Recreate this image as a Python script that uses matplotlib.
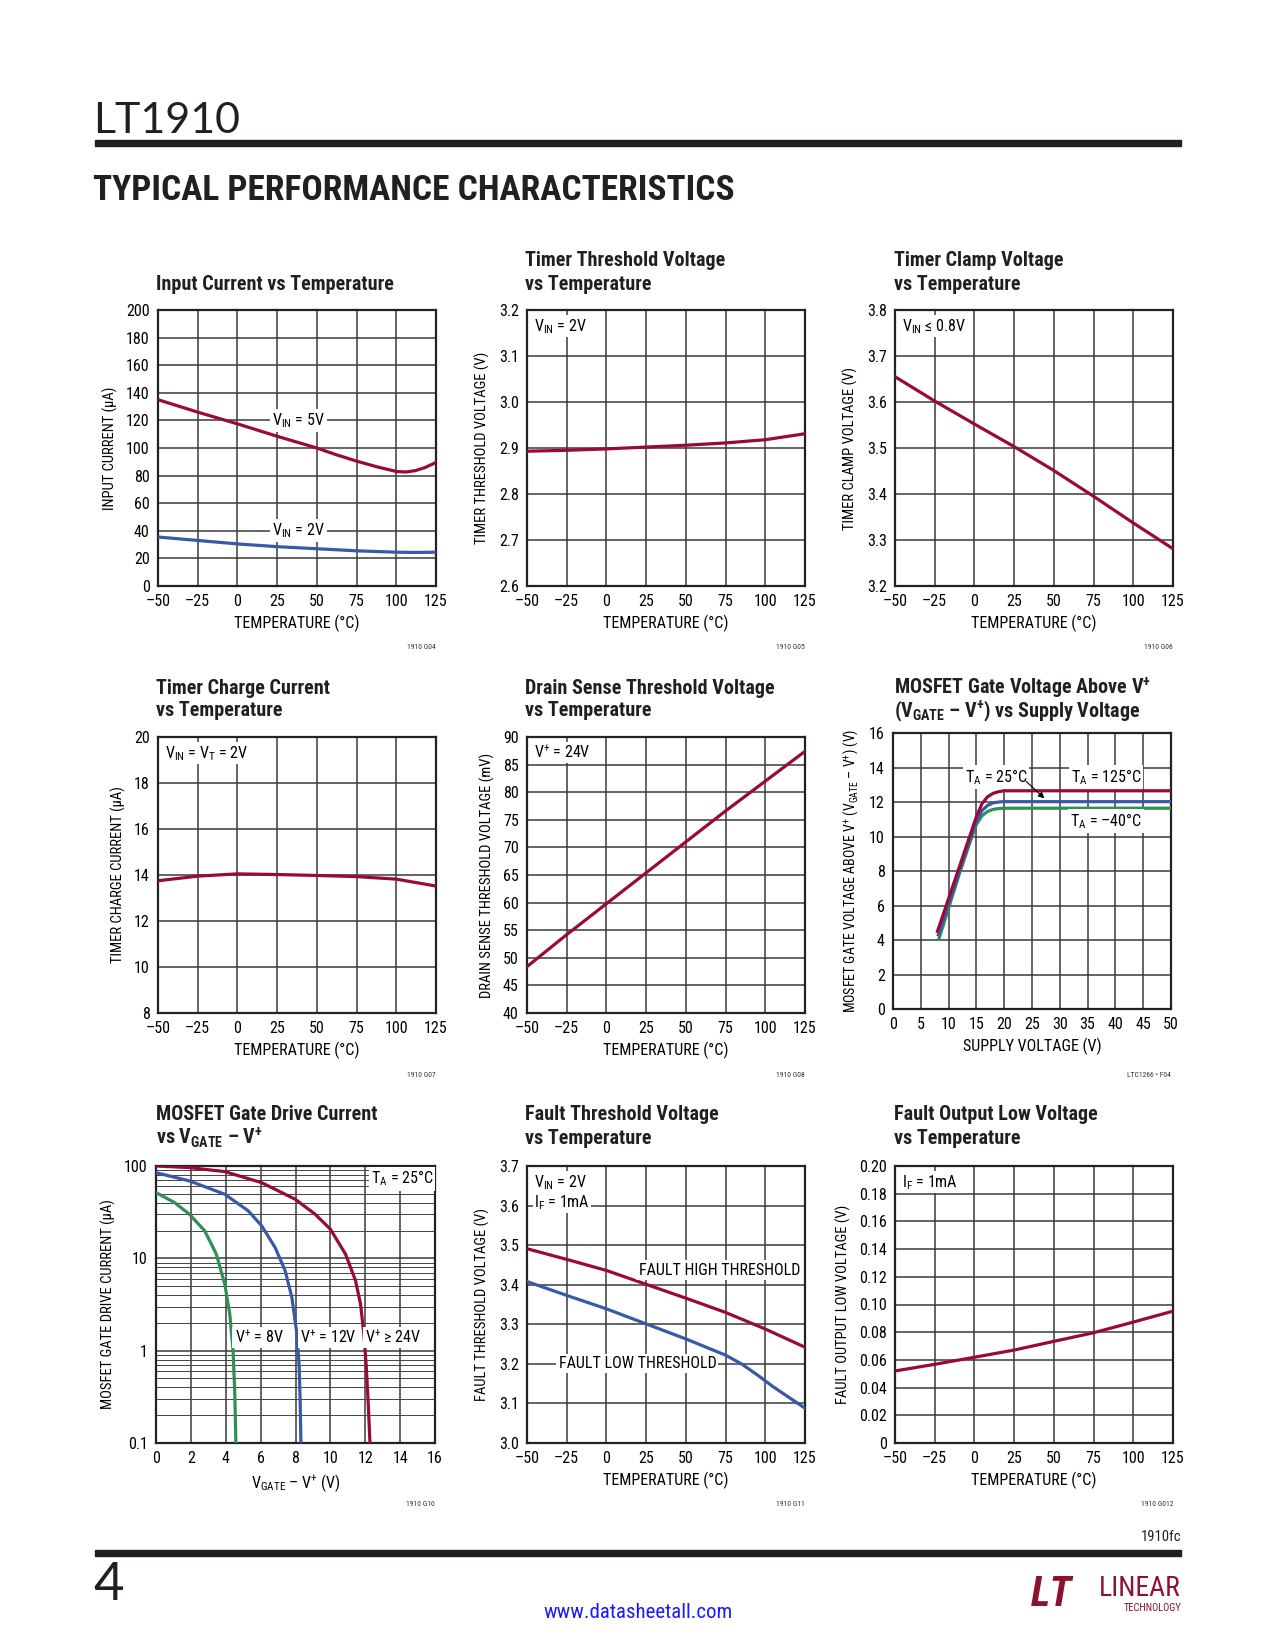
import matplotlib
matplotlib.use('Agg')
import matplotlib.pyplot as plt
from matplotlib import font_manager as fm
import numpy as np


def pick(*names):
    for n in names:
        try:
            fm.findfont(fm.FontProperties(family=n), fallback_to_default=False)
            return n
        except Exception:
            pass
    return 'DejaVu Sans'


COND = pick('Liberation Sans Narrow', 'Roboto Condensed', 'Liberation Sans')
LIGHT = pick('Lato', 'Open Sans', 'DejaVu Sans')

plt.rcParams['font.family'] = [COND, 'DejaVu Sans']
plt.rcParams['mathtext.fontset'] = 'custom'
plt.rcParams['mathtext.rm'] = COND
plt.rcParams['mathtext.it'] = COND
plt.rcParams['mathtext.bf'] = COND + ':bold'
plt.rcParams['mathtext.default'] = 'regular'

RED = '#9a0a36'
BLUE = '#3a58a8'
GREEN = '#2f8f55'
GRID = '#3a3a3a'

# ---------------- data ----------------
temp_5v = [-50, -25, 0, 25, 50, 62, 75, 88, 100, 106, 112, 118, 125]
icur_5v = [135, 126, 117.5, 108.5, 100, 95.2, 90.5, 86.3, 83, 82.6, 83.6, 85.8, 89.5]
temp_2v = [-50, -25, 0, 25, 50, 75, 100, 112, 125]
icur_2v = [35.5, 33, 30.5, 28.5, 27, 25.5, 24.5, 24.3, 24.5]

temp8 = [-50, -25, 0, 25, 50, 75, 100, 125]
timer_thr = [2.893, 2.895, 2.898, 2.902, 2.906, 2.911, 2.918, 2.931]
timer_clamp = [3.655, 3.602, 3.552, 3.503, 3.451, 3.395, 3.337, 3.281]
timer_chg = [13.75, 13.95, 14.05, 14.02, 13.98, 13.93, 13.82, 13.52]
drain_thr = [48.4, 54.2, 59.8, 65.4, 71.0, 76.6, 82.0, 87.4]

supply = [8, 10, 12, 14, 15, 16, 17, 18, 19, 20, 35, 50]
vgate_125 = [4.5, 6.4, 8.3, 10.2, 11.15, 11.9, 12.3, 12.5, 12.6, 12.65, 12.65, 12.65]
supply_25 = [8.15, 10, 12, 14, 15, 16, 17, 18, 19, 20, 35, 50]
vgate_25 = [4.3, 6.1, 8.05, 10.0, 10.9, 11.5, 11.8, 11.95, 12.0, 12.02, 12.02, 12.02]
supply_m40 = [8.3, 10, 12, 14, 15, 16, 17, 18, 19, 20, 35, 50]
vgate_m40 = [4.1, 5.85, 7.9, 9.8, 10.7, 11.2, 11.45, 11.57, 11.62, 11.64, 11.64, 11.64]

vg_24 = [0, 1.92, 3.94, 6.06, 7.98, 9.13, 10.0, 10.87, 11.44, 11.73, 11.92, 12.06, 12.17, 12.27]
id_24 = [100, 96, 87, 66, 43.7, 30, 20.7, 11.1, 5.75, 3.2, 1.52, 0.67, 0.27, 0.1]
vg_12 = [0, 1.92, 3.94, 5.29, 6.06, 6.83, 7.40, 7.79, 8.08, 8.21, 8.27, 8.31]
id_12 = [84.7, 68.9, 49.5, 32.7, 22.5, 13.1, 7.4, 3.8, 1.52, 0.67, 0.27, 0.1]
vg_8 = [0, 1.06, 1.92, 2.79, 3.46, 3.94, 4.23, 4.42, 4.52, 4.58]
id_8 = [51.6, 40.2, 30, 19.9, 11.1, 5.3, 2.5, 1.0, 0.34, 0.1]

temp_fh = [-50, -25, 0, 25, 50, 75, 100, 125]
fault_high = [3.491, 3.464, 3.436, 3.401, 3.366, 3.330, 3.288, 3.242]
temp_fl = [-50, -25, 0, 25, 50, 75, 85, 95, 105, 115, 125]
fault_low = [3.408, 3.373, 3.339, 3.301, 3.263, 3.222, 3.200, 3.172, 3.142, 3.115, 3.088]
fault_vol = [0.052, 0.0568, 0.0619, 0.0671, 0.0734, 0.0796, 0.0873, 0.0952]

temp_ticks = [-50, -25, 0, 25, 50, 75, 100, 125]
temp_labels = ['\u201350', '\u201325', '0', '25', '50', '75', '100', '125']

# ---------------- figure ----------------
W, H = 1275, 1650
fig = plt.figure(figsize=(W / 100, H / 100), dpi=100)


def rect(l, t, r, b):
    return [l / W, 1 - b / H, (r - l) / W, (b - t) / H]


def ftext(x, y, s, **kw):
    fig.text(x / W, 1 - y / H, s, **kw)


def setup(ax, xlim, xticks, xlabels, ylim, yticks, ylabels, xlabel, ylabel, ysize=10.5):
    ax.set_xlim(*xlim)
    ax.set_ylim(*ylim)
    ax.set_xticks(xticks)
    ax.set_xticklabels(xlabels)
    ax.set_yticks(yticks)
    ax.set_yticklabels(ylabels)
    ax.tick_params(length=0, labelsize=11.5, pad=6)
    ax.grid(True, color=GRID, lw=1.1)
    ax.set_axisbelow(True)
    for s in ax.spines.values():
        s.set_linewidth(1.6)
        s.set_color('#222222')
    ax.set_xlabel(xlabel, fontsize=11.5, labelpad=4)
    ax.set_ylabel(ylabel, fontsize=ysize, labelpad=6)


def label(ax, x, y, s, **kw):
    kw.setdefault('ha', 'center')
    kw.setdefault('va', 'center')
    ax.text(x, y, s, fontsize=11.5, zorder=4,
            bbox=dict(facecolor='white', edgecolor='none', pad=1.5), **kw)


def corner(ax, s):
    ax.text(0.025, 0.975, s, transform=ax.transAxes, ha='left', va='top',
            fontsize=11.5, linespacing=1.1, zorder=4,
            bbox=dict(facecolor='white', edgecolor='none', pad=1.0))


def title(x, ys, lines):
    for y, s in zip(ys, lines):
        ftext(x, y, s, fontsize=14.5, fontweight='bold', va='center', ha='left', color='#231f20')


def code(x, y, s):
    ftext(x, y, s, fontsize=5.5, ha='right', va='center', color='#333333')


cols = [(158, 436), (527, 805), (895, 1173)]
rows = [(310, 586), (737, 1013), (1166, 1443)]
title_rows = [(260, 284), (688, 711), (1115, 1138)]
code_rows = [647, 1075, 1504]
title_x = [156, 525, 894]

# chart 1
ax = fig.add_axes(rect(cols[0][0], rows[0][0], cols[0][1], rows[0][1]))
setup(ax, (-50, 125), temp_ticks, temp_labels, (0, 200), range(0, 201, 20),
      [str(v) for v in range(0, 201, 20)], 'TEMPERATURE (\u00b0C)', 'INPUT CURRENT (\u03bcA)')
ax.plot(temp_5v, icur_5v, color=RED, lw=2.3, zorder=3)
ax.plot(temp_2v, icur_2v, color=BLUE, lw=2.3, zorder=3)
label(ax, 38.5, 120, 'V$_{IN}$ = 5V')
label(ax, 38.5, 40, 'V$_{IN}$ = 2V')
title(title_x[0], [284], ['Input Current vs Temperature'])
code(cols[0][1], code_rows[0], '1910 G04')

# chart 2
ax = fig.add_axes(rect(cols[1][0], rows[0][0], cols[1][1], rows[0][1]))
yt = np.round(np.arange(2.6, 3.21, 0.1), 1)
setup(ax, (-50, 125), temp_ticks, temp_labels, (2.6, 3.2), yt,
      ['%.1f' % v for v in yt], 'TEMPERATURE (\u00b0C)', 'TIMER THRESHOLD VOLTAGE (V)')
ax.plot(temp8, timer_thr, color=RED, lw=2.3, zorder=3)
corner(ax, 'V$_{IN}$ = 2V')
title(title_x[1], title_rows[0], ['Timer Threshold Voltage', 'vs Temperature'])
code(cols[1][1], code_rows[0], '1910 G05')

# chart 3
ax = fig.add_axes(rect(cols[2][0], rows[0][0], cols[2][1], rows[0][1]))
yt = np.round(np.arange(3.2, 3.81, 0.1), 1)
setup(ax, (-50, 125), temp_ticks, temp_labels, (3.2, 3.8), yt,
      ['%.1f' % v for v in yt], 'TEMPERATURE (\u00b0C)', 'TIMER CLAMP VOLTAGE (V)')
ax.plot(temp8, timer_clamp, color=RED, lw=2.3, zorder=3)
corner(ax, 'V$_{IN}$ \u2264 0.8V')
title(title_x[2], title_rows[0], ['Timer Clamp Voltage', 'vs Temperature'])
code(cols[2][1], code_rows[0], '1910 G06')

# chart 4
ax = fig.add_axes(rect(cols[0][0], rows[1][0], cols[0][1], rows[1][1]))
setup(ax, (-50, 125), temp_ticks, temp_labels, (8, 20), range(8, 21, 2),
      [str(v) for v in range(8, 21, 2)], 'TEMPERATURE (\u00b0C)', 'TIMER CHARGE CURRENT (\u03bcA)')
ax.plot(temp8, timer_chg, color=RED, lw=2.3, zorder=3)
corner(ax, 'V$_{IN}$ = V$_T$ = 2V')
title(title_x[0], title_rows[1], ['Timer Charge Current', 'vs Temperature'])
code(cols[0][1], code_rows[1], '1910 G07')

# chart 5
ax = fig.add_axes(rect(cols[1][0], rows[1][0], cols[1][1], rows[1][1]))
setup(ax, (-50, 125), temp_ticks, temp_labels, (40, 90), range(40, 91, 5),
      [str(v) for v in range(40, 91, 5)], 'TEMPERATURE (\u00b0C)',
      'DRAIN SENSE THRESHOLD VOLTAGE (mV)')
ax.plot(temp8, drain_thr, color=RED, lw=2.3, zorder=3)
corner(ax, 'V$^{+}$ = 24V')
title(title_x[1], title_rows[1], ['Drain Sense Threshold Voltage', 'vs Temperature'])
code(cols[1][1], code_rows[1], '1910 G08')

# chart 6
ax = fig.add_axes(rect(893, 733, 1171, 1009))
setup(ax, (0, 50), range(0, 51, 5), [str(v) for v in range(0, 51, 5)], (0, 16),
      range(0, 17, 2), [str(v) for v in range(0, 17, 2)], 'SUPPLY VOLTAGE (V)',
      'MOSFET GATE VOLTAGE ABOVE V$^{+}$ (V$_{GATE}$ \u2013 V$^{+}$) (V)', ysize=10)
ax.plot(supply_m40, vgate_m40, color=GREEN, lw=2.3, zorder=3)
ax.plot(supply_25, vgate_25, color=BLUE, lw=2.3, zorder=3)
ax.plot(supply, vgate_125, color=RED, lw=2.3, zorder=3)
label(ax, 18.5, 13.45, 'T$_A$ = 25\u00b0C')
label(ax, 38.3, 13.45, 'T$_A$ = 125\u00b0C')
label(ax, 38.3, 10.9, 'T$_A$ = \u201340\u00b0C')
ax.annotate('', xy=(27.6, 12.1), xytext=(23.6, 13.3),
            arrowprops=dict(arrowstyle='-|>', lw=0.8, color='black', mutation_scale=9), zorder=5)
title(title_x[2], title_rows[1], ['MOSFET Gate Voltage Above V$^{+}$',
                                  '(V$_{GATE}$ \u2013 V$^{+}$) vs Supply Voltage'])
code(1171, code_rows[1], 'LTC1266 \u2022 F04')

# chart 7
ax = fig.add_axes(rect(156, rows[2][0], 435, rows[2][1]))
ax.set_yscale('log')
setup(ax, (0, 16), range(0, 17, 2), [str(v) for v in range(0, 17, 2)], (0.1, 100),
      [0.1, 1, 10, 100], ['0.1', '1', '10', '100'], 'V$_{GATE}$ \u2013 V$^{+}$ (V)',
      'MOSFET GATE DRIVE CURRENT (\u03bcA)')
ax.yaxis.set_minor_formatter(matplotlib.ticker.NullFormatter())
ax.tick_params(which='minor', length=0)
ax.grid(True, which='minor', axis='y', color='#444444', lw=0.7)
ax.plot(vg_8, id_8, color=GREEN, lw=2.3, zorder=3)
ax.plot(vg_12, id_12, color=BLUE, lw=2.3, zorder=3)
ax.plot(vg_24, id_24, color=RED, lw=2.3, zorder=3)
label(ax, 5.9, 1.38, 'V$^{+}$ = 8V')
label(ax, 9.9, 1.38, 'V$^{+}$ = 12V')
label(ax, 13.6, 1.38, 'V$^{+}$ \u2265 24V')
label(ax, 14.1, 73, 'T$_A$ = 25\u00b0C')
title(title_x[0], title_rows[2], ['MOSFET Gate Drive Current', 'vs V$_{GATE}$ \u2013 V$^{+}$'])
code(435, code_rows[2], '1910 G10')

# chart 8
ax = fig.add_axes(rect(cols[1][0], rows[2][0], cols[1][1], rows[2][1]))
yt = np.round(np.arange(3.0, 3.71, 0.1), 1)
setup(ax, (-50, 125), temp_ticks, temp_labels, (3.0, 3.7), yt,
      ['%.1f' % v for v in yt], 'TEMPERATURE (\u00b0C)', 'FAULT THRESHOLD VOLTAGE (V)')
ax.plot(temp_fh, fault_high, color=RED, lw=2.3, zorder=3)
ax.plot(temp_fl, fault_low, color=BLUE, lw=2.3, zorder=3)
label(ax, 71, 3.437, 'FAULT HIGH THRESHOLD')
label(ax, 19.5, 3.2, 'FAULT LOW THRESHOLD')
corner(ax, 'V$_{IN}$ = 2V\nI$_F$ = 1mA')
title(title_x[1], title_rows[2], ['Fault Threshold Voltage', 'vs Temperature'])
code(cols[1][1], code_rows[2], '1910 G11')

# chart 9
ax = fig.add_axes(rect(cols[2][0], rows[2][0], cols[2][1], rows[2][1]))
yt = np.round(np.arange(0, 0.201, 0.02), 2)
setup(ax, (-50, 125), temp_ticks, temp_labels, (0, 0.2), yt,
      ['0'] + ['%.2f' % v for v in yt[1:]], 'TEMPERATURE (\u00b0C)',
      'FAULT OUTPUT LOW VOLTAGE (V)')
ax.plot(temp8, fault_vol, color=RED, lw=2.3, zorder=3)
corner(ax, 'I$_F$ = 1mA')
title(title_x[2], title_rows[2], ['Fault Output Low Voltage', 'vs Temperature'])
code(cols[2][1], code_rows[2], '1910 G012')

# ---------------- page decorations ----------------
ftext(93, 121, 'LT1910', fontsize=31, family=LIGHT, fontweight='normal', va='center',
      ha='left', color='#231f20')
fig.add_artist(plt.Rectangle((95 / W, 1 - 146 / H), (1181 - 95) / W, 6 / H,
                             transform=fig.transFigure, color='#231f20'))
ftext(93, 190, 'TYPICAL PERFORMANCE CHARACTERISTICS', fontsize=25.5, fontweight='heavy',
      va='center', ha='left', color='#231f20', family=[COND, 'DejaVu Sans'])

ftext(1181, 1537, '1910fc', fontsize=10.5, ha='right', va='center', color='#231f20')
fig.add_artist(plt.Rectangle((95 / W, 1 - 1556 / H), (1181 - 95) / W, 6 / H,
                             transform=fig.transFigure, color='#231f20'))
ftext(93, 1586, '4', fontsize=38, family=LIGHT, fontweight='normal', va='center',
      ha='left', color='#231f20')
ftext(638, 1612, 'www.datasheetall.com', fontsize=15, ha='center', va='center', color='#1a1aff')
ftext(1052, 1595, 'LT', fontsize=30, fontweight='heavy', style='italic', ha='center',
      va='center', color='#8c1230')
ftext(1181, 1589, 'LINEAR', fontsize=20, ha='right', va='center', color='#8c1230')
ftext(1181, 1608, 'TECHNOLOGY', fontsize=7.5, ha='right', va='center', color='#8c1230')

fig.savefig('out.png', dpi=100)
